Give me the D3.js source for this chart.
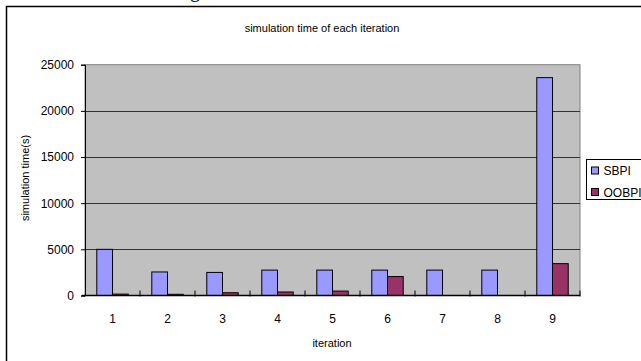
<!DOCTYPE html>
<html lang="en">
<head>
<meta charset="UTF-8">
<title>simulation time of each iteration</title>
<script src="https://d3js.org/d3.v7.min.js"></script>
<style>
  body { margin: 0; background: #fff; }
  svg text { font-family: "Liberation Sans", Arial, sans-serif; fill: #000; }
</style>
</head>
<body>
<script>
// data
const iterations = ["1", "2", "3", "4", "5", "6", "7", "8", "9"];
const seriesNames = ["SBPI", "OOBPI"];
const sbpi = [5000, 2550, 2500, 2750, 2750, 2750, 2750, 2750, 23600];
const oobpi = [150, 130, 300, 380, 480, 2050, 0, 0, 3450];
const yTicks = [0, 5000, 10000, 15000, 20000, 25000];
const colors = ["#9999ff", "#993366"];

const width = 641, height = 361;
const plot = { left: 85, right: 580, top: 64.7, bottom: 295.5 };

const svg = d3.select("body").append("svg")
  .attr("width", width)
  .attr("height", height);

// outer frame (only top and left show in the crop)
svg.append("rect")
  .attr("x", 6.5).attr("y", 6.5)
  .attr("width", 700).attr("height", 400)
  .attr("fill", "#fff")
  .attr("stroke", "#000")
  .attr("stroke-width", 1.5);

// cut-off caption glyph above the frame
svg.append("text")
  .attr("x", 190).attr("y", -3)
  .style("font-family", "'Liberation Serif', 'Times New Roman', serif")
  .style("font-size", "20px")
  .text("g");

const x0 = d3.scaleBand()
  .domain(iterations)
  .range([plot.left, plot.right])
  .padding(0);

const x1 = d3.scaleBand()
  .domain(seriesNames)
  .range([0, x0.bandwidth()])
  .paddingInner(0)
  .paddingOuter(0.75);

const y = d3.scaleLinear()
  .domain([0, 25000])
  .range([plot.bottom, plot.top]);

// plot background
svg.append("rect")
  .attr("x", plot.left).attr("y", plot.top)
  .attr("width", plot.right - plot.left)
  .attr("height", plot.bottom - plot.top)
  .attr("fill", "#c0c0c0")
  .attr("stroke", "#808080")
  .attr("stroke-width", 1);

// gridlines
svg.append("g")
  .selectAll("line")
  .data(yTicks.filter(d => d > 0 && d < 25000))
  .join("line")
  .attr("x1", plot.left).attr("x2", plot.right)
  .attr("y1", d => Math.round(y(d)) + 0.5)
  .attr("y2", d => Math.round(y(d)) + 0.5)
  .attr("stroke", "#333")
  .attr("stroke-width", 1);

// bars
const rows = iterations.map((it, i) => ({ it, values: [sbpi[i], oobpi[i]] }));

svg.append("g")
  .selectAll("g")
  .data(rows)
  .join("g")
  .attr("transform", d => `translate(${x0(d.it)},0)`)
  .selectAll("rect")
  .data(d => d.values.map((v, k) => ({ name: seriesNames[k], v, k })).filter(d => d.v > 0))
  .join("rect")
  .attr("x", d => x1(d.name))
  .attr("y", d => y(d.v))
  .attr("width", x1.bandwidth())
  .attr("height", d => y(0) - y(d.v))
  .attr("fill", d => colors[d.k])
  .attr("stroke", "#000")
  .attr("stroke-width", 1);

// y axis
const yAxis = svg.append("g")
  .attr("transform", `translate(${plot.left},0)`)
  .call(d3.axisLeft(y).tickValues(yTicks).tickSize(4).tickPadding(7).tickFormat(d3.format("d")));
yAxis.select(".domain").attr("stroke", "#000");
yAxis.selectAll(".tick line").attr("stroke", "#000");
yAxis.selectAll("text").style("font-size", "12px");

// x axis: ticks sit on band edges, labels in band centres
const xAxis = svg.append("g")
  .attr("transform", `translate(0,${plot.bottom})`);
xAxis.append("line")
  .attr("x1", plot.left - 3).attr("x2", plot.right)
  .attr("stroke", "#000").attr("stroke-width", 1.5);
xAxis.selectAll(".edge")
  .data(iterations.slice(1).concat(["end"]))
  .join("line")
  .attr("class", "edge")
  .attr("x1", d => d === "end" ? plot.right : x0(d))
  .attr("x2", d => d === "end" ? plot.right : x0(d))
  .attr("y1", -5).attr("y2", 1)
  .attr("stroke", "#000");
xAxis.selectAll(".lbl")
  .data(iterations)
  .join("text")
  .attr("class", "lbl")
  .attr("x", d => x0(d) + x0.bandwidth() / 2)
  .attr("y", 23)
  .attr("text-anchor", "middle")
  .attr("dy", "0.35em")
  .style("font-size", "12px")
  .text(d => d);

// titles
svg.append("text")
  .attr("x", 322).attr("y", 28)
  .attr("dy", "0.35em")
  .attr("text-anchor", "middle")
  .style("font-size", "11px")
  .text("simulation time of each iteration");

svg.append("text")
  .attr("x", 332).attr("y", 343)
  .attr("dy", "0.35em")
  .attr("text-anchor", "middle")
  .style("font-size", "11px")
  .text("iteration");

svg.append("text")
  .attr("transform", "translate(25,178) rotate(-90)")
  .attr("dy", "0.35em")
  .attr("text-anchor", "middle")
  .style("font-size", "11px")
  .text("simulation time(s)");

// legend
const legend = svg.append("g");
legend.append("rect")
  .attr("x", 586.5).attr("y", 159.5)
  .attr("width", 80).attr("height", 40)
  .attr("fill", "#fff")
  .attr("stroke", "#000");
const item = legend.selectAll(".item")
  .data(seriesNames)
  .join("g")
  .attr("class", "item")
  .attr("transform", (d, i) => `translate(591.5,${167 + i * 21.5})`);
item.append("rect")
  .attr("width", 7).attr("height", 7)
  .attr("fill", (d, i) => colors[i])
  .attr("stroke", "#000");
item.append("text")
  .attr("x", 12).attr("y", 4)
  .attr("dy", "0.35em")
  .style("font-size", "12px")
  .text(d => d);
</script>
</body>
</html>
